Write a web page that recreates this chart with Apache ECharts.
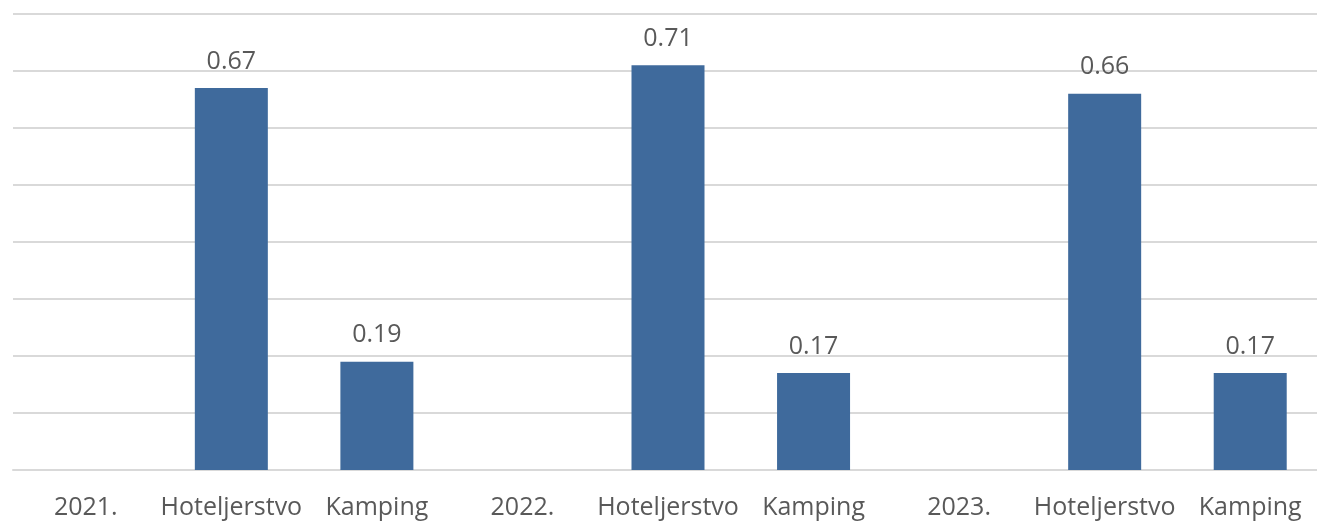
<!DOCTYPE html>
<html>
<head>
<meta charset="utf-8">
<script src="https://cdn.jsdelivr.net/npm/echarts@6/dist/echarts.min.js"></script>
<style>
  html, body { margin: 0; padding: 0; background: #ffffff; overflow: hidden; }
  #chart { width: 1323px; height: 526px; }
</style>
</head>
<body>
<div id="chart"></div>
<script>
// Categories: year markers followed by the two sectors
const categories = ['2021.', 'Hoteljerstvo', 'Kamping', '2022.', 'Hoteljerstvo', 'Kamping', '2023.', 'Hoteljerstvo', 'Kamping'];
// Values per category (year markers carry no bar)
const values = [null, 0.67, 0.19, null, 0.71, 0.17, null, 0.66, 0.17];

const textColor = '#595959';
const fontFamily = 'Open Sans, Liberation Sans, sans-serif';

const chart = echarts.init(document.getElementById('chart'), null, { renderer: 'canvas' });
chart.setOption({
  animation: false,
  backgroundColor: '#ffffff',
  grid: { left: 13, right: 0, top: 14, bottom: 56, containLabel: false },
  xAxis: {
    type: 'category',
    data: categories,
    axisLine: { show: true, lineStyle: { color: '#d9d9d9', width: 2 } },
    axisTick: { show: false },
    axisLabel: { color: textColor, fontSize: 25, fontFamily: fontFamily, margin: 25, interval: 0 }
  },
  yAxis: {
    type: 'value',
    min: 0,
    max: 0.8,
    interval: 0.1,
    axisLabel: { show: false },
    axisLine: { show: false },
    axisTick: { show: false },
    splitLine: { lineStyle: { color: '#d9d9d9', width: 2 } }
  },
  series: [{
    type: 'bar',
    data: values,
    barWidth: 73,
    itemStyle: { color: '#3f6a9c' },
    label: {
      show: true,
      position: 'top',
      distance: 14,
      color: textColor,
      fontSize: 25,
      fontFamily: fontFamily,
      formatter: p => p.value == null ? '' : p.value.toFixed(2)
    }
  }]
});
</script>
</body>
</html>
